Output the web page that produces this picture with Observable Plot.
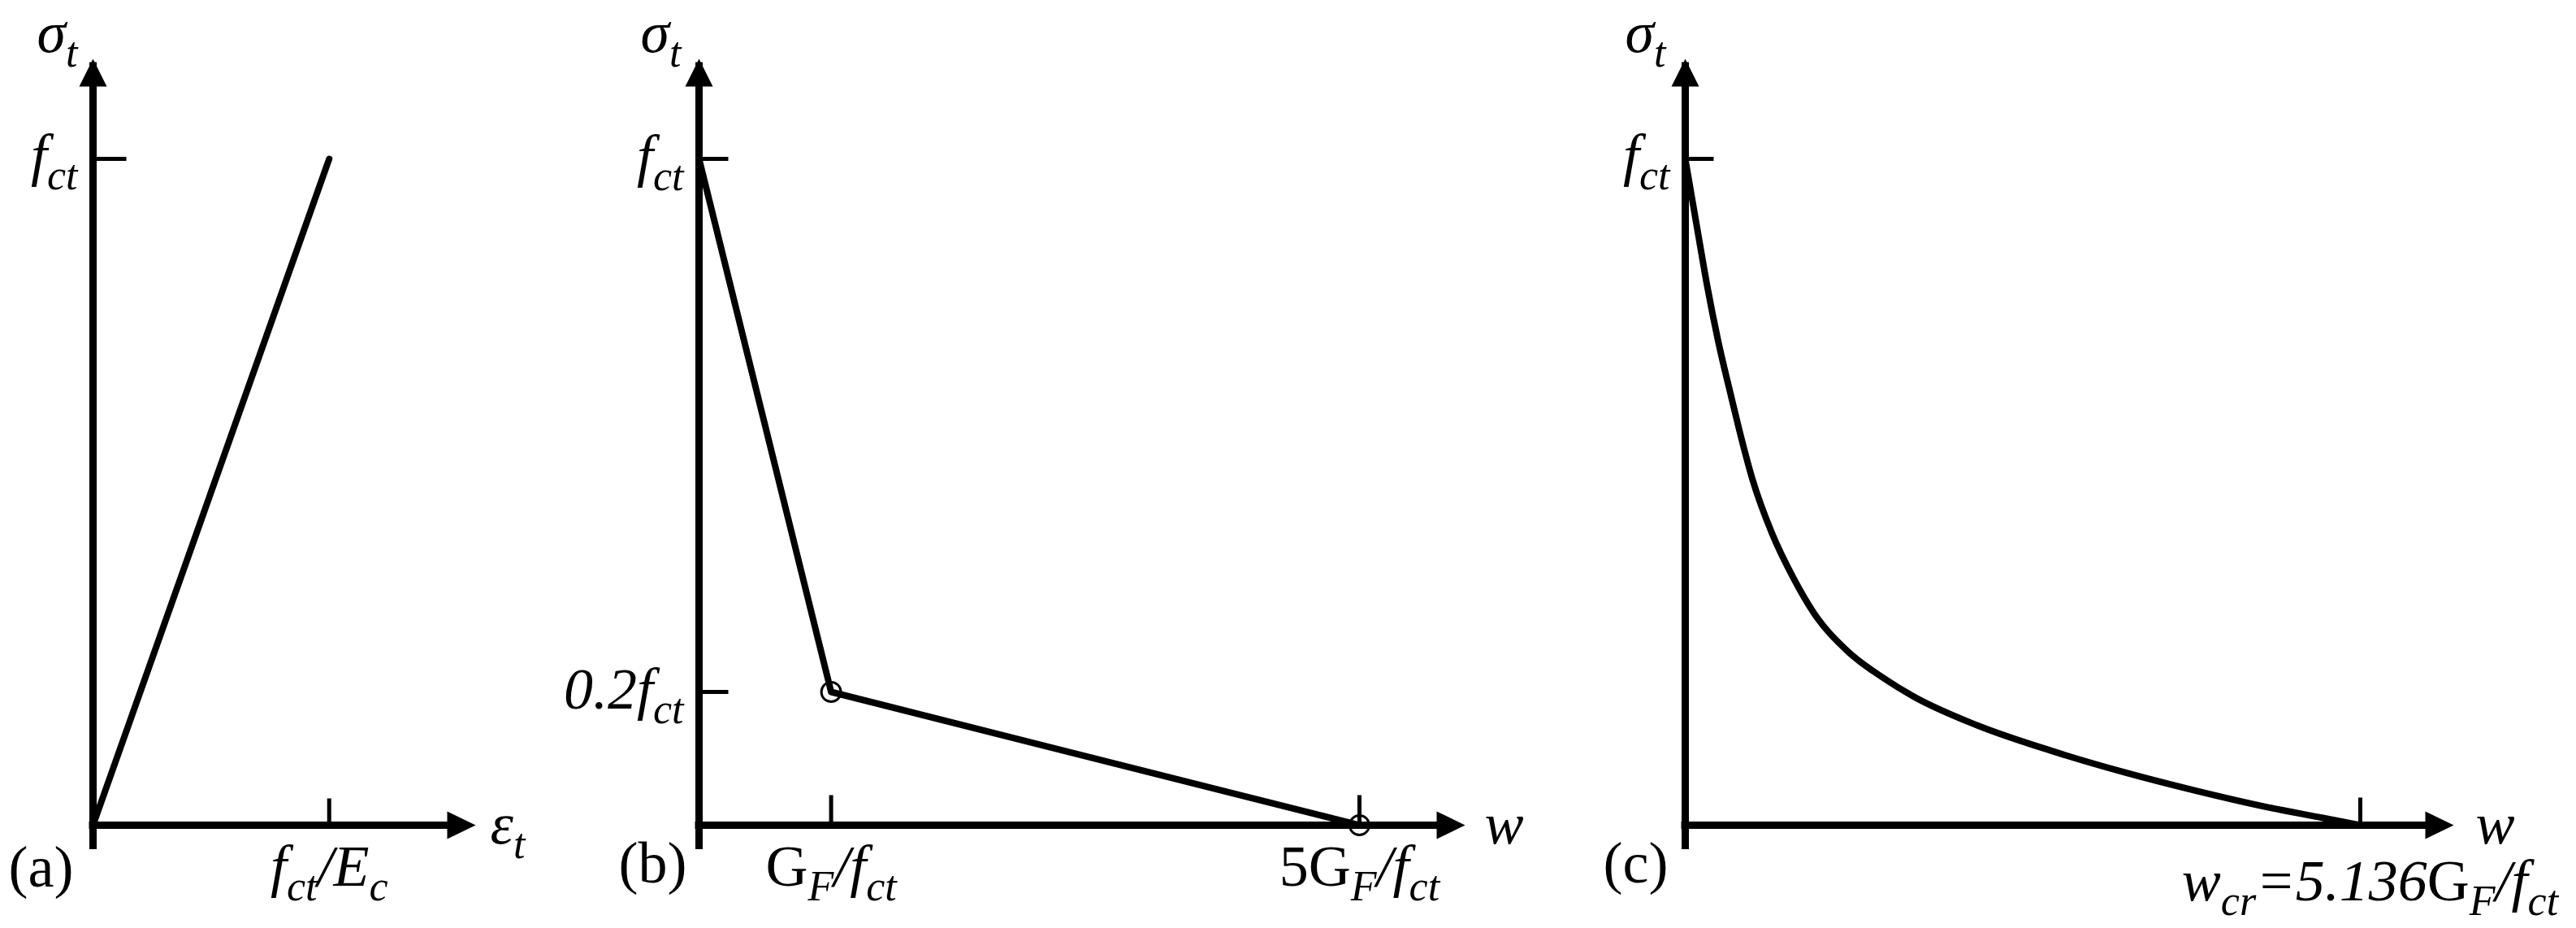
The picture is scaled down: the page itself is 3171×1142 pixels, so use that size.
<!DOCTYPE html>
<html><head><meta charset="utf-8">
<script src="https://cdn.jsdelivr.net/npm/d3@7"></script>
<script src="https://cdn.jsdelivr.net/npm/@observablehq/plot@0.6"></script>
<style>
html,body{margin:0;padding:0;background:#fff;overflow:hidden;}
#wrap{position:relative;width:3171px;height:1142px;background:#fff;}
#wrap > svg{position:absolute;top:0;}
</style></head><body><div id="wrap"></div>
<script>
// ---------- data ----------
// (a) linear elastic branch: strain in units of f_ct/E_c, stress in units of f_ct
const aStrain = [0, 1];
const aStress = [0, 1];
// (b) bilinear softening: crack opening w in units of G_F/f_ct
const bW = [0, 1, 5];
const bStress = [1, 0.2, 0];
const bCircled = [1, 2];           // indices of the circled break points
// (c) exponential softening curve, w in units of G_F/f_ct (w_cr = 5.136)
const cW = [0, 0.10, 0.17, 0.25, 0.35, 0.41, 0.51, 0.66, 0.82, 0.98, 1.23, 1.50, 1.73, 2.22, 2.78, 3.33, 3.88, 4.43, 4.85, 5.136];
const cStress = [1, 0.885, 0.806, 0.727, 0.643, 0.594, 0.520, 0.438, 0.372, 0.318, 0.262, 0.222, 0.194, 0.150, 0.112, 0.080, 0.052, 0.027, 0.011, 0];

// axis extents (arrow tips)
const yMax = 1.15;
const aXMax = 1.62, bXMax = 5.80, cXMax = 5.847;

// tick values and labels
const aYTicks = [1],          aYLabels = ["f_{ct}"];
const aXTicks = [1],          aXLabels = ["f_{ct}/E_{c}"];
const bYTicks = [1, 0.2],     bYLabels = ["f_{ct}", "0.2f_{ct}"];
const bXTicks = [1, 5],       bXLabels = ["!{G}_{F}/f_{ct}", "!{5G}_{F}/f_{ct}"];
const cYTicks = [1],          cYLabels = ["f_{ct}"];
const cXTicks = [5.136],      cXLabels = ["w_{cr}=5.136!{G}_{F}/f_{ct}"];
const yTitle = "σ_{t}";
const aXTitle = "ε_{t}", bXTitle = "w", cXTitle = "w";
const panelNames = ["(a)", "(b)", "(c)"];

// ---------- helpers ----------
const FONT = "Liberation Serif, Times New Roman, serif";
const MAIN = 72, SUB = 52;
const tri = {draw(c, l, r) { c.moveTo(0, -l); c.lineTo(-r, 0); c.lineTo(r, 0); c.closePath(); }};
const seg = {draw(c, l) { c.moveTo(0, 0); c.lineTo(0, -l); }};
const pts = (xs, ys) => xs.map((x, i) => ({x, y: ys[i]}));
const lab = (vals, labels) => vals.map((v, i) => ({v, t: labels[i]}));

function axes(xMax) {
  return [
    Plot.ruleY([0], {x1: 0, x2: xMax, stroke: "black", strokeWidth: 9, insetLeft: -4.5, insetRight: 30}),
    Plot.ruleX([0], {y1: 0, y2: yMax, stroke: "black", strokeWidth: 9, insetBottom: -4.5, insetTop: 30}),
    Plot.vector([0], {x: xMax, y: 0, rotate: 90, length: 35, r: 17, anchor: "end", shape: tri, fill: "black", stroke: "none"}),
    Plot.vector([0], {x: 0, y: yMax, rotate: 0, length: 34, r: 17, anchor: "end", shape: tri, fill: "black", stroke: "none"})
  ];
}
function yTickMarks(vals, len) {
  return Plot.vector(vals, {x: 0, y: d => d, rotate: 90, length: len, anchor: "start", shape: seg, stroke: "black", strokeWidth: 5, strokeLinecap: "butt"});
}
function xTickMarks(vals, len) {
  return Plot.vector(vals, {x: d => d, y: 0, rotate: 0, length: len, anchor: "start", shape: seg, stroke: "black", strokeWidth: 5, strokeLinecap: "butt"});
}
const txt = (data, o) => Plot.text(data, {fontSize: MAIN, fontFamily: FONT, fontStyle: "italic", fill: "black", lineAnchor: "bottom", ...o});

function rich(svg, shift) {
  svg.querySelectorAll("text").forEach(el => {
    const s = el.textContent;
    if (!/[_!]\{/.test(s)) return;
    el.textContent = "";
    const re = /([_!])\{([^}]*)\}|([^_!]+)/g;
    let m, down = false;
    while ((m = re.exec(s))) {
      const ts = document.createElementNS("http://www.w3.org/2000/svg", "tspan");
      if (m[1] === "_") {
        ts.textContent = m[2];
        ts.setAttribute("font-size", SUB);
        ts.setAttribute("dy", shift);
        down = true;
      } else {
        ts.textContent = m[1] === "!" ? m[2] : m[3];
        if (m[1] === "!") ts.setAttribute("font-style", "normal");
        if (down) { ts.setAttribute("dy", -shift); down = false; }
      }
      el.appendChild(ts);
    }
  });
}

function panel({left, width, xMax, marginLeft, marginRight, marks, shift = 18}) {
  const svg = Plot.plot({
    width, height: 1142, marginLeft, marginRight, marginTop: 72, marginBottom: 127,
    x: {domain: [0, xMax], axis: null},
    y: {domain: [0, yMax], axis: null},
    style: {background: "transparent", overflow: "visible"},
    marks
  });
  svg.style.left = left + "px";
  svg.style.maxWidth = "none";
  rich(svg, shift);
  document.getElementById("wrap").appendChild(svg);
}

// ---------- panel (a) ----------
panel({
  left: 0, width: 700, xMax: aXMax, marginLeft: 114, marginRight: 115,
  marks: [
    ...axes(aXMax),
    yTickMarks(aYTicks, 41),
    xTickMarks(aXTicks, 33),
    Plot.line(pts(aStrain, aStress), {x: "x", y: "y", stroke: "black", strokeWidth: 8, strokeLinecap: "round", strokeLinejoin: "round"}),
    txt([yTitle], {x: 0, y: yMax, text: d => d, textAnchor: "end", dx: -19, dy: -9}),
    txt(lab(aYTicks, aYLabels), {x: 0, y: "v", text: "t", textAnchor: "end", dx: -19, dy: 19}),
    txt([aXTitle], {x: aXMax, y: 0, text: d => d, textAnchor: "start", dx: 18, dy: 22}),
    txt(lab(aXTicks, aXLabels), {x: "v", y: 0, text: "t", textAnchor: "middle", dy: 74}),
    txt([panelNames[0]], {x: 0, y: 0, text: d => d, textAnchor: "start", dx: -104, dy: 75, fontStyle: "normal"})
  ]
});

// ---------- panel (b) ----------
panel({
  left: 640, width: 1310, xMax: bXMax, marginLeft: 220, marginRight: 147,
  marks: [
    ...axes(bXMax),
    yTickMarks(bYTicks, 36),
    xTickMarks(bXTicks, 37),
    Plot.line(pts(bW, bStress), {x: "x", y: "y", stroke: "black", strokeWidth: 8, strokeLinecap: "round", strokeLinejoin: "round"}),
    Plot.dot(bCircled.map(i => ({x: bW[i], y: bStress[i]})), {x: "x", y: "y", r: 12, stroke: "black", strokeWidth: 3, fill: "none"}),
    txt([yTitle], {x: 0, y: yMax, text: d => d, textAnchor: "end", dx: -22, dy: -9}),
    txt(lab(bYTicks, bYLabels), {x: 0, y: "v", text: "t", textAnchor: "end", dx: -19, dy: 20}),
    txt([bXTitle], {x: bXMax, y: 0, text: d => d, textAnchor: "start", dx: 24, dy: 22}),
    txt(lab(bXTicks, bXLabels), {x: "v", y: 0, text: "t", textAnchor: "middle", dy: 74}),
    txt([panelNames[1]], {x: 0, y: 0, text: d => d, textAnchor: "start", dx: -99, dy: 70, fontStyle: "normal"})
  ]
});

// ---------- panel (c) ----------
panel({
  left: 1950, width: 1221, xMax: cXMax, marginLeft: 124, marginRight: 151,
  marks: [
    ...axes(cXMax),
    yTickMarks(cYTicks, 35),
    xTickMarks(cXTicks, 34),
    Plot.line(pts(cW, cStress), {x: "x", y: "y", curve: "monotone-x", stroke: "black", strokeWidth: 8, strokeLinecap: "round", strokeLinejoin: "round"}),
    txt([yTitle], {x: 0, y: yMax, text: d => d, textAnchor: "end", dx: -24, dy: -9}),
    txt(lab(cYTicks, cYLabels), {x: 0, y: "v", text: "t", textAnchor: "end", dx: -19, dy: 19}),
    txt([cXTitle], {x: cXMax, y: 0, text: d => d, textAnchor: "start", dx: 27, dy: 22}),
    txt(lab(cXTicks, cXLabels), {x: "v", y: 0, text: "t", textAnchor: "middle", dx: 12, dy: 92}),
    txt([panelNames[2]], {x: 0, y: 0, text: d => d, textAnchor: "start", dx: -101, dy: 70, fontStyle: "normal"})
  ]
});
</script>
</body></html>
